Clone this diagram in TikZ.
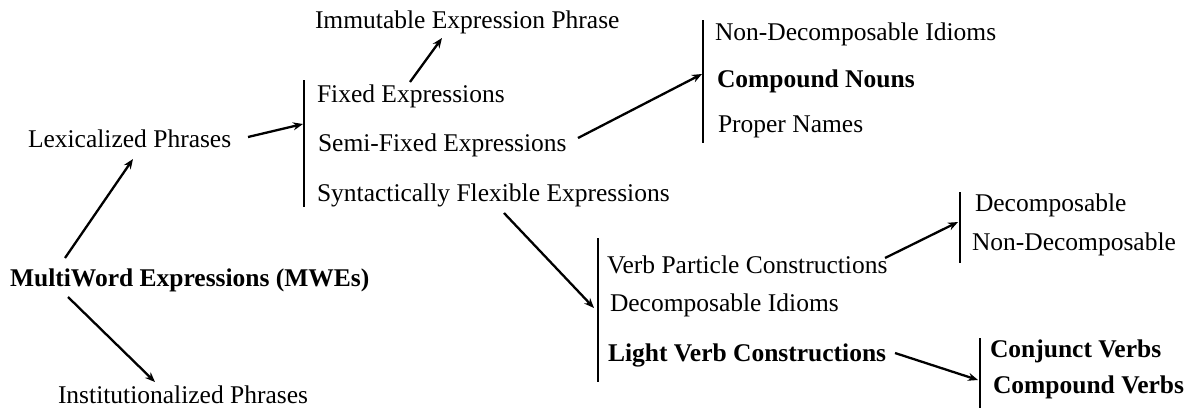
\documentclass[tikz,border=0pt]{standalone}
\usepackage{fontspec}
\setmainfont{Liberation Serif}
\usetikzlibrary{arrows.meta}
\begin{document}
\begin{tikzpicture}[x=1pt,y=-1pt,
  lbl/.style={anchor=base west,inner sep=0pt,outer sep=0pt,font=\fontsize{25.5}{28}\selectfont},
  blbl/.style={lbl,font=\fontsize{25.5}{28}\selectfont\bfseries},
  arr/.style={line width=2.3pt,-{Stealth[length=10pt,width=8pt]}},
  bar/.style={line width=2.7pt}]
\useasboundingbox (0,0) rectangle (1189,408);
% texts
\node[lbl]  (imm)   at (315,28)  {Immutable Expression Phrase};
\node[lbl]  (fixed) at (317,102) {Fixed Expressions};
\node[lbl]  (semi)  at (318,151) {Semi-Fixed Expressions};
\node[lbl]  (synt)  at (317,201) {Syntactically Flexible Expressions};
\node[lbl]  (lex)   at (28,147)  {Lexicalized Phrases};
\node[blbl] (mwe)   at (10,286)  {MultiWord Expressions (MWEs)};
\node[lbl]  (inst)  at (58,403)  {Institutionalized Phrases};
\node[lbl]  (ndi)   at (715,40)  {Non-Decomposable Idioms};
\node[blbl] (cn)    at (717,87)  {Compound Nouns};
\node[lbl]  (pn)    at (718,132) {Proper Names};
\node[lbl]  (vpc)   at (607,273) {Verb Particle Constructions};
\node[lbl]  (di)    at (610,311) {Decomposable Idioms};
\node[blbl] (lvc)   at (608,361) {Light Verb Constructions};
\node[lbl]  (dec)   at (975,211) {Decomposable};
\node[lbl]  (ndec)  at (972,250) {Non-Decomposable};
\node[blbl] (cjv)   at (990,357) {Conjunct Verbs};
\node[blbl] (cpv)   at (993,393) {Compound Verbs};
% bars
\coordinate (b1t) at (304,80);  \coordinate (b1b) at (304,207);
\coordinate (b2t) at (703,20);  \coordinate (b2b) at (703,143);
\coordinate (b3t) at (598,238); \coordinate (b3b) at (598,382);
\coordinate (b4t) at (960,192); \coordinate (b4b) at (960,263);
\coordinate (b5t) at (980,338); \coordinate (b5b) at (980,408);
\draw[bar] (b1t) -- (b1b);
\draw[bar] (b2t) -- (b2b);
\draw[bar] (b3t) -- (b3b);
\draw[bar] (b4t) -- (b4b);
\draw[bar] (b5t) -- (b5b);
% arrow ends
\coordinate (mweA) at (65,258);  \coordinate (lexIn) at (133,159);
\coordinate (mweB) at (68,297);  \coordinate (instIn) at (155,382);
\coordinate (lexOut) at (248,137); \coordinate (b1in) at (303,124);
\coordinate (fixOut) at (410,82); \coordinate (immIn) at (442,38);
\coordinate (semiOut) at (578,138); \coordinate (b2in) at (702,74);
\coordinate (syntOut) at (504,213); \coordinate (b3in) at (594,308);
\coordinate (vpcOut) at (885,258); \coordinate (b4in) at (958,222);
\coordinate (lvcOut) at (895,353); \coordinate (b5in) at (978,380);
\draw[arr] (mweA) -- (lexIn);
\draw[arr] (mweB) -- (instIn);
\draw[arr] (lexOut) -- (b1in);
\draw[arr] (fixOut) -- (immIn);
\draw[arr] (semiOut) -- (b2in);
\draw[arr] (syntOut) -- (b3in);
\draw[arr] (vpcOut) -- (b4in);
\draw[arr] (lvcOut) -- (b5in);
\end{tikzpicture}
\end{document}
